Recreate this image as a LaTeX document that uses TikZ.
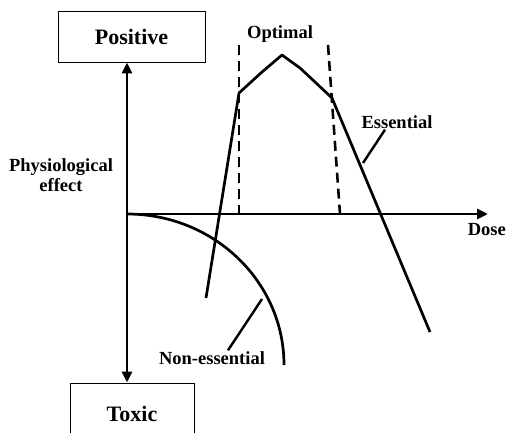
\documentclass[tikz,border=0pt]{standalone}
\usepackage{fontspec}
\setmainfont{Liberation Serif}
\usetikzlibrary{arrows.meta}
\tikzset{
	box/.style={draw, line width=0.35mm, inner sep=0pt, font=\fontsize{22}{24}\selectfont\bfseries},
	lbl/.style={inner sep=1pt, font=\fontsize{18.5}{20}\selectfont\bfseries},
	axis/.style={line width=1mm, -{Triangle[length=11pt, width=10pt]}},
	curve/.style={line width=0.95mm},
	optdash/.style={line width=0.9mm, dash pattern=on 10pt off 6pt},
	leader/.style={line width=0.85mm}
}

\begin{document}
\begin{tikzpicture}[x=1pt, y=-1pt]
		%%%%% START %%%%%
		\useasboundingbox (0, 0) rectangle (506, 433);
		
		\node[box, minimum width=147pt, minimum height=51pt] (positive) at (131.5, 36.5) {Positive};
		\node[box, minimum width=124pt, minimum height=62pt] (toxic) at (132, 414) {Toxic};
		
		\coordinate (o) at (127, 214);
		\coordinate (dose) at (488, 214);
		\draw[axis] (o) -- (o |- positive.south);
		\draw[axis] (o) -- (o |- toxic.north);
		\draw[axis] (o) -- (dose);
		
		\node[lbl, align=center] (physio) at (61, 175) {Physiological\\effect};
		\node[lbl, anchor=east] (doselbl) at (507, 230) {Dose};
		\node[lbl] (optimal) at (280, 34) {Optimal};
		\node[lbl] (essential) at (397, 122) {Essential};
		\node[lbl] (nonessential) at (212, 358) {Non-essential};
		
		\draw[optdash] (239, 45) -- (239, 214);
		\draw[optdash] (328, 45) -- (340, 214);
		
		\draw[curve, line join=round] (206, 298) -- (239, 93) -- (262, 72) -- (282, 55)
			-- (300, 68) -- (315, 82) -- (332, 98) -- (430, 332);
		
		\draw[curve] (o) .. controls (213.7, 214) and (284, 281.6) .. (284, 365);
		
		\coordinate (essend) at (363, 163);
		\draw[leader] ([xshift=-12pt]essential.south) -- (essend);
		\coordinate (nonend) at (262, 299);
		\draw[leader] ([xshift=16pt]nonessential.north) -- (nonend);
		
		%%%%% END %%%%%
	\end{tikzpicture}
\end{document}
